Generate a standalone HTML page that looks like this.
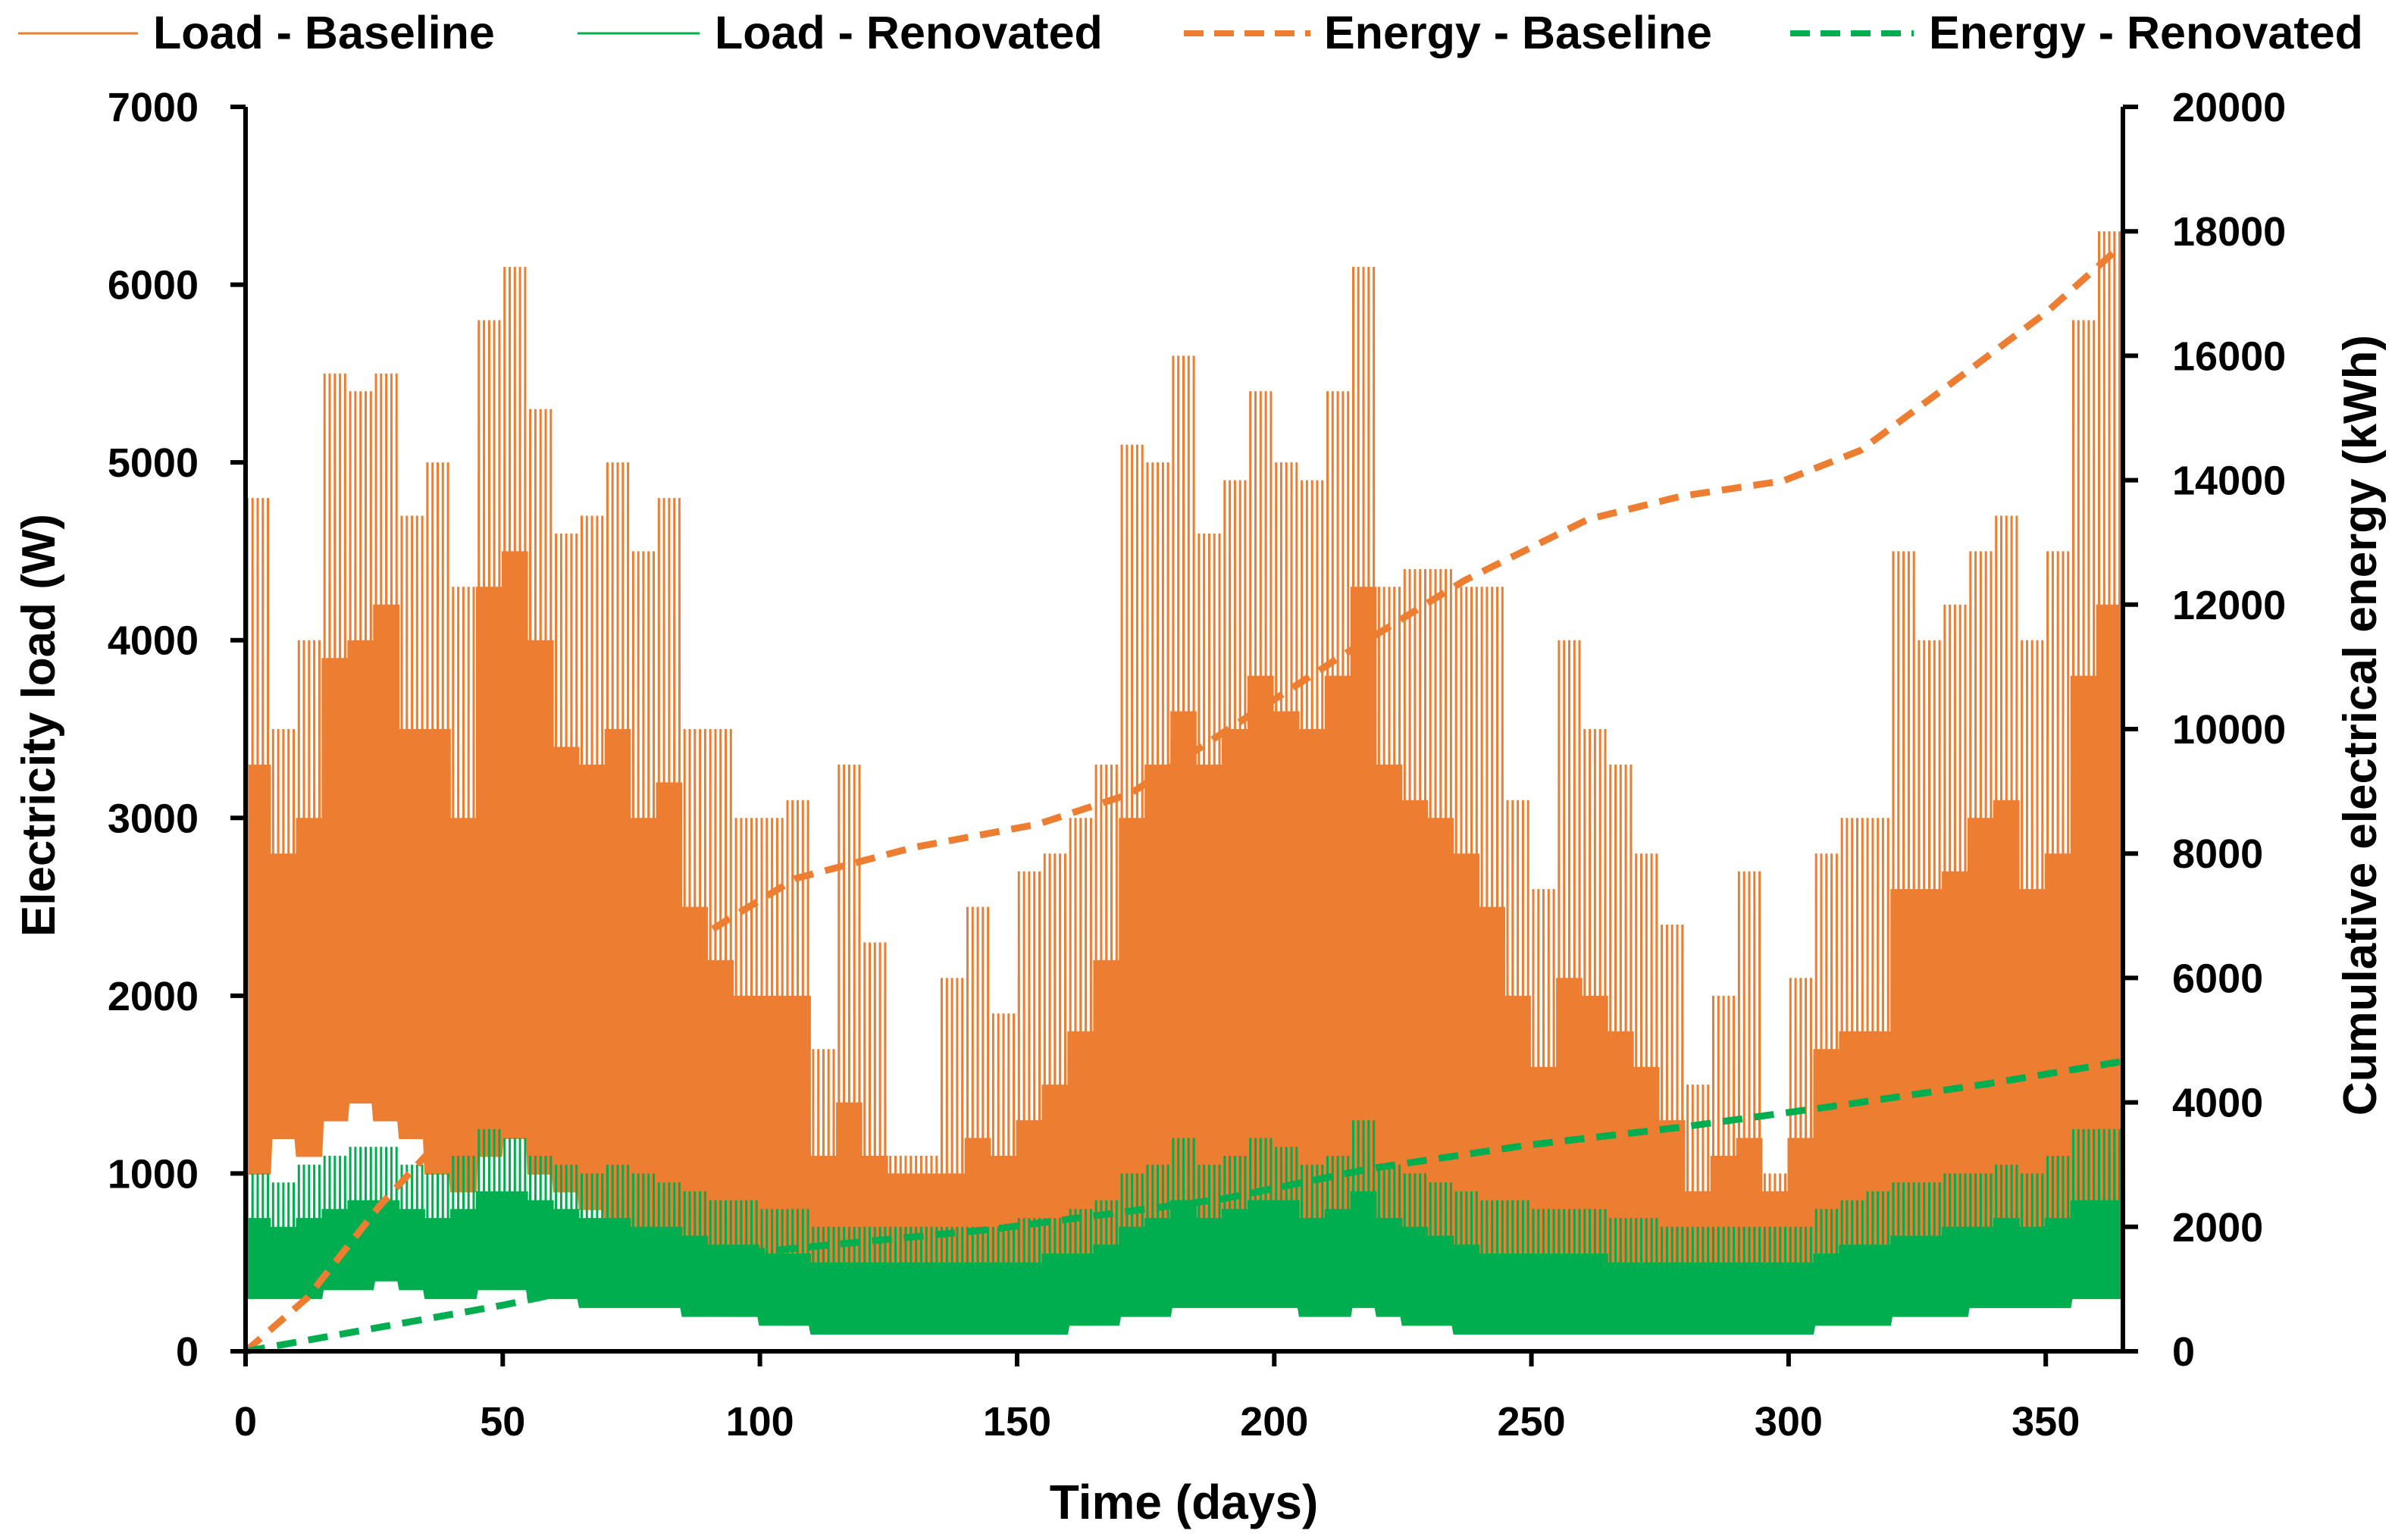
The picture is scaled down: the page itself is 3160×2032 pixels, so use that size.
<!DOCTYPE html>
<html><head><meta charset="utf-8"><style>
html,body{margin:0;padding:0;background:#fff}
svg{display:block;font-family:"Liberation Sans",sans-serif;font-weight:bold}
</style></head><body>
<svg id="chart" xmlns="http://www.w3.org/2000/svg" width="3160" height="2032" viewBox="0 0 3160 2032">
<g id="legend">
 <g><line x1="24" y1="44" x2="182" y2="44" stroke="#ED7D31" stroke-width="3"/><text x="202" y="64" font-size="61" fill="#000">Load - Baseline</text></g>
 <g><line x1="762" y1="44" x2="923" y2="44" stroke="#00AD4F" stroke-width="3"/><text x="943" y="64" font-size="61" fill="#000">Load - Renovated</text></g>
 <g><line x1="1562" y1="44" x2="1729" y2="44" stroke="#ED7D31" stroke-width="8" stroke-dasharray="26,14"/><text x="1747" y="64" font-size="61" fill="#000">Energy - Baseline</text></g>
 <g><line x1="2362" y1="44" x2="2525" y2="44" stroke="#00AD4F" stroke-width="8" stroke-dasharray="26,14"/><text x="2545" y="64" font-size="61" fill="#000">Energy - Renovated</text></g>
</g>
<g id="plot"></g>
<g id="axes"></g>
</svg>
<script>
// data: 5-day blocks (74 blocks)
const baseMax=[4800,3500,4000,5500,5400,5500,4700,5000,4300,5800,6100,5300,4600,4700,5000,4500,4800,3500,3500,3000,3000,3100,1700,3300,2300,1100,1100,2100,2500,1900,2700,2800,3000,3300,5100,5000,5600,4600,4900,5400,5000,4900,5400,6100,4300,4400,4400,4300,4300,3100,2600,4000,3500,3300,2800,2400,1500,2000,2700,1000,2100,2800,3000,3000,4500,4000,4200,4500,4700,4000,4500,5800,6300,3800];
const baseTyp=[3300,2800,3000,3900,4000,4200,3500,3500,3000,4300,4500,4000,3400,3300,3500,3000,3200,2500,2200,2000,2000,2000,1100,1400,1100,1000,1000,1000,1200,1100,1300,1500,1800,2200,3000,3300,3600,3300,3500,3800,3600,3500,3800,4300,3300,3100,3000,2800,2500,2000,1600,2100,2000,1800,1600,1300,900,1100,1200,900,1200,1700,1800,1800,2600,2600,2700,3000,3100,2600,2800,3800,4200,2800];
const baseMin=[1000,1200,1100,1300,1400,1300,1200,1000,900,1100,1200,1000,900,800,700,500,400,300,250,200,200,150,120,120,120,120,120,120,120,120,120,120,150,200,250,250,300,300,300,300,300,250,300,300,250,150,150,120,120,120,120,120,120,120,120,120,120,120,120,120,120,150,150,150,200,200,200,250,250,250,250,300,300,300];
const renMax=[1000,950,1050,1100,1150,1150,1050,1000,1100,1250,1200,1100,1050,1000,1050,1000,950,900,850,850,800,800,700,700,700,700,700,700,700,700,750,750,800,850,1000,1050,1200,1050,1100,1200,1150,1050,1100,1300,1050,1000,950,900,850,850,800,800,800,750,750,700,700,700,700,700,700,800,850,900,950,950,1000,1000,1050,1000,1100,1250,1250,950];
const renTyp=[750,700,750,800,850,850,800,750,800,900,900,850,800,750,750,700,700,650,600,600,550,550,500,500,500,500,500,500,500,500,500,550,550,600,700,750,850,750,800,850,850,750,800,900,750,700,650,600,550,550,550,550,550,500,500,500,500,500,500,500,500,550,600,600,650,650,700,700,750,700,750,850,850,700];
const renMin=[300,300,300,350,350,400,350,300,300,350,350,300,300,250,250,250,250,200,200,200,150,150,100,100,100,100,100,100,100,100,100,100,150,150,200,200,250,250,250,250,250,200,200,250,200,150,150,100,100,100,100,100,100,100,100,100,100,100,100,100,100,150,150,150,200,200,200,250,250,250,250,300,300,250];
const ebDays=[0,12,26,41,56,71,83,95,107,130,154,172,190,213,237,261,279,299,314,332,350,365];
const ebVals=[0,860,2330,3680,5030,5890,6380,7000,7600,8100,8470,8960,9940,11170,12390,13370,13740,13990,14480,15580,16690,17790];
const erDays=[0,50,71,100,145,190,219,249,279,308,338,365];
const erVals=[0,740,1100,1600,1960,2450,2940,3310,3600,3930,4290,4660];
const xTicks=[0,50,100,150,200,250,300,350];
const yLeftTicks=[0,1000,2000,3000,4000,5000,6000,7000];
const yRightTicks=[0,2000,4000,6000,8000,10000,12000,14000,16000,18000,20000];

const X0=324,X1=2801,Y0=1783,Y1=141;
const xs=d=>X0+d*(X1-X0)/365;
const yl=v=>Y0-v*(Y0-Y1)/7000;
const yr=v=>Y0-v*(Y0-Y1)/20000;
const NS="http://www.w3.org/2000/svg";
const plot=document.getElementById('plot'),axes=document.getElementById('axes');
function mk(tag,attrs,parent){const e=document.createElementNS(NS,tag);for(const k in attrs)e.setAttribute(k,attrs[k]);parent.appendChild(e);return e;}

function loadPath(maxA,typA,minA){
  let d='';
  for(let day=0;day<365;day++){
    const b=Math.floor(day/5);
    const peaks=[typA[b],maxA[b],typA[b]];
    peaks.forEach((pk,k)=>{
      const t=day+k/3;
      d+=(d?'L':'M')+xs(t).toFixed(1)+','+yl(minA[b]).toFixed(1);
      d+='L'+xs(t+0.02).toFixed(1)+','+yl(pk).toFixed(1);
      d+='L'+xs(t+0.04).toFixed(1)+','+yl(minA[b]).toFixed(1);
    });
  }
  return d;
}
const p1=mk('path',{d:loadPath(baseMax,baseTyp,baseMin),fill:'none',stroke:'#ED7D31','stroke-width':3},plot);


const p2=mk('path',{d:loadPath(renMax,renTyp,renMin),fill:'none',stroke:'#00AD4F','stroke-width':3},plot);


function ePath(ds,vs){return ds.map((d,i)=>(i?'L':'M')+xs(d).toFixed(1)+','+yr(vs[i]).toFixed(1)).join('');}
const p3=mk('path',{d:ePath(ebDays,ebVals),fill:'none',stroke:'#ED7D31','stroke-width':9,'stroke-dasharray':'26,16'},plot);


const p4=mk('path',{d:ePath(erDays,erVals),fill:'none',stroke:'#00AD4F','stroke-width':9,'stroke-dasharray':'26,16'},plot);



mk('line',{x1:X0,y1:Y1,x2:X0,y2:Y0+2,stroke:'#000','stroke-width':6},axes);
mk('line',{x1:X1,y1:Y1,x2:X1,y2:Y0+2,stroke:'#000','stroke-width':6},axes);
mk('line',{x1:X0-3,y1:Y0,x2:X1+3,y2:Y0,stroke:'#000','stroke-width':6},axes);
xTicks.forEach(t=>{
  const l=mk('line',{x1:xs(t),y1:Y0,x2:xs(t),y2:Y0+20,stroke:'#000','stroke-width':6},axes);
  
  const tx=mk('text',{x:xs(t),y:1894,'text-anchor':'middle','font-size':54},axes);tx.textContent=t;
  
});
yLeftTicks.forEach(t=>{
  const l=mk('line',{x1:X0-20,y1:yl(t),x2:X0,y2:yl(t),stroke:'#000','stroke-width':6},axes);
  
  const tx=mk('text',{x:262,y:yl(t)+19,'text-anchor':'end','font-size':54},axes);tx.textContent=t;
  
});
yRightTicks.forEach(t=>{
  const l=mk('line',{x1:X1,y1:yr(t),x2:X1+20,y2:yr(t),stroke:'#000','stroke-width':6},axes);
  
  const tx=mk('text',{x:2866,y:yr(t)+19,'text-anchor':'start','font-size':54},axes);tx.textContent=t;
  
});
const xt=mk('text',{x:1562,y:2004,'text-anchor':'middle','font-size':64},axes);xt.textContent='Time (days)';

const ylt=mk('text',{x:0,y:0,'text-anchor':'middle','font-size':62,transform:'translate(72,957) rotate(-90)'},axes);ylt.textContent='Electricity load (W)';

const yrt=mk('text',{x:0,y:0,'text-anchor':'middle','font-size':62,transform:'translate(3135,957) rotate(-90)'},axes);yrt.textContent='Cumulative electrical energy (kWh)';

</script>
</body></html>
